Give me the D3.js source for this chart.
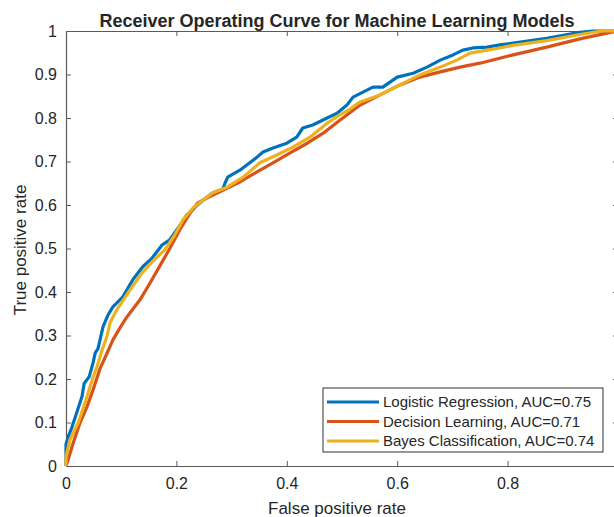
<!DOCTYPE html>
<html>
<head>
<meta charset="utf-8">
<script src="https://cdn.jsdelivr.net/npm/d3@7"></script>
<style>
  body { margin: 0; background: #fff; }
  text { font-family: "Liberation Sans", Arial, sans-serif; fill: #262626; }
</style>
</head>
<body>
<script>
// ROC points, [false positive rate, true positive rate]
let logisticRoc = [[0,0],[0,0.05],[0.004,0.067],[0.011,0.09],[0.02,0.125],[0.029,0.16],[0.033,0.19],[0.042,0.205],[0.049,0.237],[0.053,0.26],[0.058,0.27],[0.067,0.32],[0.076,0.347],[0.085,0.366],[0.103,0.389],[0.121,0.428],[0.139,0.458],[0.156,0.478],[0.174,0.508],[0.188,0.52],[0.207,0.554],[0.219,0.577],[0.234,0.595],[0.248,0.611],[0.266,0.628],[0.284,0.636],[0.288,0.65],[0.293,0.664],[0.315,0.68],[0.346,0.71],[0.357,0.722],[0.375,0.731],[0.4,0.742],[0.418,0.756],[0.429,0.777],[0.447,0.784],[0.473,0.8],[0.491,0.811],[0.509,0.83],[0.52,0.848],[0.556,0.871],[0.574,0.871],[0.6,0.894],[0.629,0.903],[0.654,0.917],[0.678,0.933],[0.701,0.945],[0.719,0.956],[0.737,0.961],[0.763,0.963],[0.786,0.968],[0.81,0.972],[0.871,0.983],[0.931,0.997],[0.955,1],[1,1]];

let decisionRoc = [[0,0],[0.002,0.007],[0.013,0.053],[0.025,0.098],[0.038,0.136],[0.049,0.175],[0.062,0.225],[0.071,0.25],[0.085,0.29],[0.098,0.318],[0.11,0.342],[0.122,0.362],[0.134,0.382],[0.152,0.42],[0.17,0.46],[0.188,0.5],[0.207,0.545],[0.225,0.582],[0.239,0.605],[0.255,0.616],[0.284,0.634],[0.315,0.653],[0.346,0.676],[0.375,0.697],[0.406,0.72],[0.437,0.742],[0.466,0.765],[0.496,0.795],[0.533,0.83],[0.569,0.853],[0.605,0.876],[0.641,0.894],[0.678,0.906],[0.714,0.917],[0.75,0.926],[0.81,0.945],[0.871,0.963],[0.931,0.982],[0.991,0.998],[1,1]];

let bayesRoc = [[0,0],[0,0.02],[0.007,0.06],[0.022,0.099],[0.038,0.159],[0.048,0.2],[0.056,0.228],[0.065,0.265],[0.074,0.297],[0.08,0.33],[0.092,0.359],[0.116,0.405],[0.138,0.444],[0.156,0.469],[0.179,0.497],[0.197,0.531],[0.212,0.566],[0.23,0.593],[0.248,0.611],[0.266,0.628],[0.292,0.641],[0.321,0.664],[0.351,0.697],[0.382,0.715],[0.411,0.733],[0.442,0.756],[0.473,0.788],[0.496,0.807],[0.514,0.82],[0.533,0.837],[0.569,0.853],[0.605,0.876],[0.641,0.899],[0.678,0.917],[0.708,0.933],[0.732,0.949],[0.763,0.956],[0.786,0.961],[0.81,0.967],[0.871,0.978],[0.931,0.992],[0.97,1],[1,1]];

let modelNames = ["Logistic Regression, AUC=0.75", "Decision Learning, AUC=0.71", "Bayes Classification, AUC=0.74"];
let modelColors = ["#0072BD", "#D95319", "#EDB120"];
let xTicks = [0, 0.2, 0.4, 0.6, 0.8, 1];
let yTicks = [0, 0.1, 0.2, 0.3, 0.4, 0.5, 0.6, 0.7, 0.8, 0.9, 1];

let series = [logisticRoc, decisionRoc, bayesRoc];

let svgWidth = 614,
	svgHeight = 517;
let margin = { left: 66, top: 31, right: 618, bottom: 466 };

let svg = d3
	.select("body")
	.append("svg")
	.attr("width", svgWidth)
	.attr("height", svgHeight);

let x = d3.scaleLinear().domain([0, 1]).range([margin.left, margin.right]);
let y = d3.scaleLinear().domain([0, 1]).range([margin.bottom, margin.top]);

let fmt = d => String(+d.toFixed(1));

//Axes, ticks pointing inward like matlab
function styleAxis(g) {
	g.select(".domain").attr("stroke", "#5a5a5a").attr("stroke-width", 1.2);
	g.selectAll(".tick line").attr("stroke", "#5a5a5a");
	g.selectAll(".tick text")
		.style("font-size", "16px")
		.attr("fill", "#262626");
}

svg.append("g")
	.attr("transform", `translate(0,${margin.bottom})`)
	.call(d3.axisBottom(x).tickValues(xTicks).tickFormat(fmt).tickSizeInner(-5).tickSizeOuter(0).tickPadding(12))
	.call(styleAxis);

svg.append("g")
	.attr("transform", `translate(0,${margin.top})`)
	.call(d3.axisTop(x).tickValues(xTicks).tickFormat("").tickSizeInner(-5).tickSizeOuter(0))
	.call(styleAxis);

svg.append("g")
	.attr("transform", `translate(${margin.left},0)`)
	.call(d3.axisLeft(y).tickValues(yTicks).tickFormat(fmt).tickSizeInner(-5).tickSizeOuter(0).tickPadding(9))
	.call(styleAxis);

svg.append("g")
	.attr("transform", `translate(${margin.right},0)`)
	.call(d3.axisRight(y).tickValues(yTicks).tickFormat("").tickSizeInner(-5).tickSizeOuter(0))
	.call(styleAxis);

//Curves
let line = d3.line()
	.x(d => x(d[0]))
	.y(d => y(d[1]));

svg.selectAll("path.roc")
	.data(series)
	.enter()
	.append("path")
	.attr("class", "roc")
	.attr("d", line)
	.attr("fill", "none")
	.attr("stroke", (d, i) => modelColors[i])
	.attr("stroke-width", 3.2)
	.attr("stroke-linejoin", "round");

//Title and labels
svg.append("text")
	.attr("x", 337)
	.attr("y", 27)
	.attr("text-anchor", "middle")
	.style("font-size", "18px")
	.style("font-weight", "bold")
	.attr("fill", "#000")
	.text("Receiver Operating Curve for Machine Learning Models");

svg.append("text")
	.attr("x", 337)
	.attr("y", 514)
	.attr("text-anchor", "middle")
	.style("font-size", "17px")
	.text("False positive rate");

svg.append("text")
	.attr("transform", "translate(26,250) rotate(-90)")
	.attr("text-anchor", "middle")
	.style("font-size", "17px")
	.text("True positive rate");

//Legend
let legend = svg.append("g").attr("transform", "translate(323,388)");
legend.append("rect")
	.attr("width", 280)
	.attr("height", 64)
	.attr("fill", "#fff")
	.attr("stroke", "#333")
	.attr("stroke-width", 1);

let rows = legend.selectAll("g.row")
	.data(modelNames)
	.enter()
	.append("g")
	.attr("class", "row")
	.attr("transform", (d, i) => `translate(0,${14 + i * 19.5})`);

rows.append("line")
	.attr("x1", 4)
	.attr("x2", 56)
	.attr("stroke", (d, i) => modelColors[i])
	.attr("stroke-width", 3);

rows.append("text")
	.attr("x", 60)
	.attr("dy", "0.35em")
	.style("font-size", "15px")
	.text(d => d);
</script>
</body>
</html>
